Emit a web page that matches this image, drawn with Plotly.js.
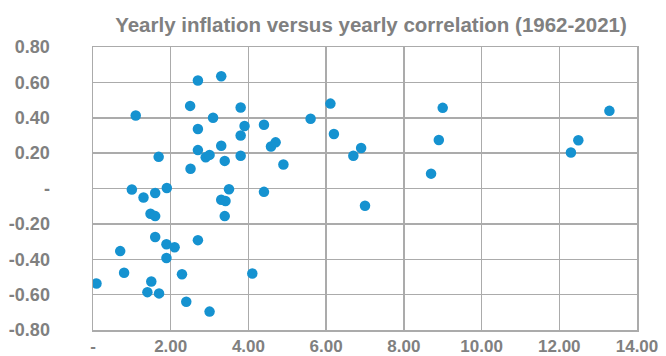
<!DOCTYPE html>
<html>
<head>
<meta charset="utf-8">
<script src="https://cdn.plot.ly/plotly-3.0.1.min.js"></script>
<style>html,body{margin:0;padding:0;background:#fff;}#chart{width:666px;height:356px;}</style>
</head>
<body>
<div id="chart"></div>
<script>
// Yearly inflation (%) for each year
const inflation = [2.70, 3.30, 2.50, 3.80, 1.10, 3.09, 2.70, 3.90, 4.40, 3.80,
  2.70, 3.30, 2.90, 3.00, 3.39, 3.80, 1.69, 2.51, 4.58, 4.70,
  5.60, 6.11, 6.20, 6.90, 6.70, 4.90, 3.50, 4.40, 9.00, 8.90,
  8.70, 13.29, 12.49, 12.30, 7.00, 1.00, 1.90, 1.30, 1.60, 3.30,
  3.41, 3.39, 1.48, 1.60, 1.60, 1.89, 2.10, 2.70, 0.70, 1.89,
  0.80, 2.29, 4.10, 0.09, 1.50, 1.40, 1.70, 2.40, 3.00];
// Yearly correlation for each year
const correlation = [0.611, 0.635, 0.467, 0.458, 0.413, 0.400, 0.336, 0.353, 0.360, 0.300,
  0.217, 0.242, 0.177, 0.190, 0.156, 0.185, 0.179, 0.112, 0.237, 0.261,
  0.394, 0.480, 0.308, 0.229, 0.185, 0.136, -0.004, -0.019, 0.456, 0.274,
  0.084, 0.439, 0.273, 0.204, -0.098, -0.006, 0.003, -0.051, -0.025, -0.064,
  -0.071, -0.156, -0.143, -0.156, -0.274, -0.315, -0.332, -0.292, -0.354, -0.393,
  -0.476, -0.485, -0.481, -0.537, -0.526, -0.586, -0.593, -0.640, -0.696];

const xTickVals = [0, 2, 4, 6, 8, 10, 12, 14];
const xTickText = ["-", "2.00", "4.00", "6.00", "8.00", "10.00", "12.00", "14.00"];
const yTickVals = [-0.8, -0.6, -0.4, -0.2, 0, 0.2, 0.4, 0.6, 0.8];
const yTickText = ["-0.80", "-0.60", "-0.40", "-0.20", "-", "0.20", "0.40", "0.60", "0.80"];

const gridColor = "#ababab";
const textColor = "#808080";
const fontFam = "Liberation Sans, Arial, sans-serif";

const trace = {
  type: "scatter",
  mode: "markers",
  x: inflation,
  y: correlation,
  marker: {color: "#1592d0", size: 10.5, line: {width: 0}},
  hoverinfo: "x+y"
};

const layout = {
  width: 666,
  height: 356,
  margin: {l: 93.3, r: 29.3, t: 47, b: 26, pad: 0},
  paper_bgcolor: "#ffffff",
  plot_bgcolor: "#ffffff",
  showlegend: false,
  title: {
    text: "Yearly inflation versus yearly correlation (1962-2021)",
    font: {family: fontFam, size: 20.5, color: textColor, weight: "bold"},
    x: 0.511, xanchor: "center", xref: "paper",
    y: 0.93, yanchor: "middle"
  },
  xaxis: {
    range: [0, 14],
    tickvals: xTickVals,
    ticktext: xTickText,
    showgrid: true,
    gridcolor: gridColor,
    gridwidth: 1.5,
    zeroline: false,
    showline: true,
    linecolor: gridColor,
    linewidth: 1.5,
    mirror: true,
    ticks: "",
    tickfont: {family: fontFam, size: 17, color: textColor, weight: "bold"},
    fixedrange: true
  },
  yaxis: {
    range: [-0.8, 0.8],
    tickvals: yTickVals,
    ticktext: yTickText,
    showgrid: true,
    gridcolor: gridColor,
    gridwidth: 1.5,
    zeroline: false,
    showline: true,
    linecolor: gridColor,
    linewidth: 1.5,
    mirror: true,
    ticks: "outside",
    ticklen: 38,
    tickcolor: "rgba(0,0,0,0)",
    tickfont: {family: fontFam, size: 18, color: textColor, weight: "bold"},
    fixedrange: true
  }
};

Plotly.newPlot("chart", [trace], layout, {displayModeBar: false, staticPlot: true});
</script>
</body>
</html>
